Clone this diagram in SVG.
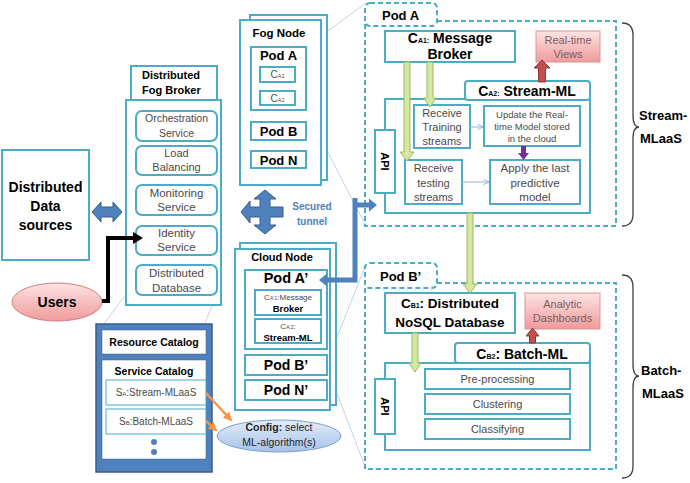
<svg xmlns="http://www.w3.org/2000/svg" width="690" height="483" viewBox="0 0 690 483">
<defs>
<style>
text{font-family:"Liberation Sans",Arial,sans-serif;}
.box{fill:#fff;stroke:#4bacc6;stroke-width:2}
.rbox{fill:#fff;stroke:#4bacc6;stroke-width:2}
.dash{stroke:#4bacc6;stroke-width:2;stroke-dasharray:5 3}
.b{font-weight:bold;fill:#000}
.g{fill:#4a4a4a}
.m{text-anchor:middle}
.faint{stroke:#c0d3ea;stroke-width:1;fill:none}
.green{fill:#d4e8a6;stroke:#9bbb59;stroke-width:1}
.red{fill:#c0504d;stroke:#943634;stroke-width:1}
.brace{fill:none;stroke:#404040;stroke-width:1.3}
</style>
<linearGradient id="pink" x1="0" y1="0" x2="0" y2="1">
<stop offset="0" stop-color="#fde4e4"/><stop offset="1" stop-color="#f09a9a"/>
</linearGradient>
<linearGradient id="lblue" x1="0" y1="0" x2="0" y2="1">
<stop offset="0" stop-color="#e3ecf7"/><stop offset="1" stop-color="#a7c2ea"/>
</linearGradient>
<marker id="thin" viewBox="0 0 10 10" refX="9" refY="5" markerWidth="7" markerHeight="7" orient="auto" markerUnits="userSpaceOnUse">
<path d="M1 1 L9 5 L1 9" fill="none" stroke="#8db3e2" stroke-width="1.3"/>
</marker>
<marker id="orange" viewBox="0 0 10 10" refX="8" refY="5" markerWidth="9" markerHeight="9" orient="auto" markerUnits="userSpaceOnUse">
<path d="M0 0 L10 5 L0 10 Z" fill="#f79646"/>
</marker>
</defs>
<rect width="690" height="483" fill="#fff"/>

<g id="faint-lines">
<line class="faint" x1="306" y1="47" x2="366" y2="3"/>
<line class="faint" x1="306" y1="110" x2="366" y2="226"/>
<line class="faint" x1="330" y1="355" x2="366" y2="264"/>
<line class="faint" x1="330" y1="375" x2="366" y2="469"/>
<line class="faint" x1="135" y1="282" x2="103" y2="325"/>
<line class="faint" x1="218" y1="292" x2="204" y2="325"/>
</g>

<g id="data-sources">
<rect class="box" x="2" y="150" width="87" height="110"/>
<text class="b m" x="45.5" y="192" font-size="14">Distributed</text>
<text class="b m" x="45.5" y="211" font-size="14">Data</text>
<text class="b m" x="45.5" y="230" font-size="14">sources</text>
</g>

<g id="fog-broker">
<rect class="box" x="131" y="66" width="86" height="34"/>
<text class="b" x="142" y="79" font-size="11">Distributed</text>
<text class="b" x="142" y="94" font-size="11">Fog Broker</text>
<rect class="box" x="126" y="100" width="95" height="205"/>
<rect class="rbox" x="136" y="111" width="81" height="30" rx="6"/>
<text class="g m" x="176.5" y="122" font-size="10.5">Orchestration</text>
<text class="g m" x="176.5" y="137" font-size="10.5">Service</text>
<rect class="rbox" x="136" y="146" width="81" height="29" rx="6"/>
<text class="g m" x="176.5" y="157" font-size="11">Load</text>
<text class="g m" x="176.5" y="171" font-size="11">Balancing</text>
<rect class="rbox" x="136" y="185" width="81" height="30" rx="6"/>
<text class="g m" x="176.5" y="197" font-size="11.5">Monitoring</text>
<text class="g m" x="176.5" y="211" font-size="11.5">Service</text>
<rect class="rbox" x="136" y="226" width="81" height="29" rx="6"/>
<text class="g m" x="176.5" y="237" font-size="11.5">Identity</text>
<text class="g m" x="176.5" y="251" font-size="11.5">Service</text>
<rect class="rbox" x="136" y="265" width="81" height="30" rx="6"/>
<text class="g m" x="176.5" y="277" font-size="11.5">Distributed</text>
<text class="g m" x="176.5" y="292" font-size="11.5">Database</text>
</g>

<g id="users">
<ellipse cx="57" cy="302" rx="45" ry="19" fill="url(#pink)" stroke="#d77b7b" stroke-width="1"/>
<text class="b m" x="57" y="307" font-size="14">Users</text>
</g>

<g id="resource-catalog">
<rect x="96" y="324" width="116" height="148" fill="#4f81bd" stroke="#385d8a" stroke-width="1.5"/>
<rect x="102" y="330" width="104" height="24" fill="#fff" stroke="#385d8a" stroke-width="0.5"/>
<text class="b m" x="154" y="346" font-size="10.5">Resource Catalog</text>
<rect x="102" y="360" width="104" height="99" fill="#fff" stroke="#385d8a" stroke-width="0.5"/>
<text class="b m" x="154" y="375" font-size="10.5">Service Catalog</text>
<rect x="106" y="380" width="100" height="25" fill="#fff" stroke="#4bacc6" stroke-width="1"/>
<text class="g m" x="156" y="396" font-size="10">S<tspan font-size="6">A</tspan>:Stream-MLaaS</text>
<rect x="106" y="409" width="100" height="25" fill="#fff" stroke="#4bacc6" stroke-width="1"/>
<text class="g m" x="156" y="425" font-size="10">S<tspan font-size="6">B</tspan>:Batch-MLaaS</text>
<circle cx="154" cy="442" r="3" fill="#4f81bd"/>
<circle cx="154" cy="452" r="3" fill="#4f81bd"/>
</g>

<g id="config">
<ellipse cx="279" cy="436" rx="62" ry="16" fill="url(#lblue)" stroke="#7a9fd4" stroke-width="1"/>
<text class="m" x="279" y="431" font-size="10.5" fill="#262626"><tspan font-weight="bold">Config:</tspan> select</text>
<text class="m" x="279" y="446" font-size="10.5" fill="#262626">ML-algorithm(s)</text>
</g>

<g id="fog-node">
<rect class="box" x="250" y="15" width="77" height="165"/>
<rect class="box" x="240" y="20" width="81" height="165"/>
<text class="b m" x="279" y="37" font-size="11.5">Fog Node</text>
<rect class="box" x="251" y="47" width="55" height="63"/>
<text class="b m" x="278.5" y="60" font-size="13">Pod A</text>
<rect class="box" x="260" y="67" width="35" height="15"/>
<text class="g m" x="277.5" y="78" font-size="10">C<tspan font-size="5.5">A1</tspan></text>
<rect class="box" x="260" y="91" width="35" height="14"/>
<text class="g m" x="277.5" y="102" font-size="10">C<tspan font-size="5.5">A2</tspan></text>
<rect class="box" x="251" y="122" width="55" height="18"/>
<text class="b m" x="278.5" y="136" font-size="13">Pod B</text>
<rect class="box" x="251" y="151" width="55" height="17"/>
<text class="b m" x="278.5" y="165" font-size="13">Pod N</text>
</g>

<g id="secured-tunnel">
<polygon points="265,190 276,199 270,199 270,207 283,207 283,217 270,217 270,225 276,225 265,234 254,225 260,225 260,217 250,217 250,223 241,212 250,201 250,207 260,207 260,199 254,199" fill="#4f81bd" stroke="#385d8a" stroke-width="1"/>
<text class="m" x="312" y="210" font-size="10" font-weight="bold" fill="#4f81bd">Secured</text>
<text class="m" x="312" y="225" font-size="10" font-weight="bold" fill="#4f81bd">tunnel</text>
</g>

<g id="cloud-node">
<rect class="box" x="240" y="243" width="96" height="162"/>
<rect class="box" x="235" y="249" width="95" height="161"/>
<text class="b m" x="282" y="261" font-size="11">Cloud Node</text>
<rect class="box" x="245" y="270" width="82" height="79"/>
<text class="b m" x="286" y="283" font-size="14.5">Pod A’</text>
<rect class="box" x="255" y="290" width="66" height="25"/>
<text class="g m" x="288" y="300" font-size="8">C<tspan font-size="5.5">A’1</tspan>:Message</text>
<text class="b m" x="288" y="312" font-size="9.5">Broker</text>
<rect class="box" x="255" y="319" width="66" height="24"/>
<text class="g m" x="288" y="329" font-size="8">C<tspan font-size="5.5">A’2</tspan>:</text>
<text class="b m" x="288" y="341" font-size="9.5">Stream-ML</text>
<rect class="box" x="245" y="355" width="82" height="20"/>
<text class="b m" x="286" y="370" font-size="14">Pod B’</text>
<rect class="box" x="245" y="380" width="82" height="20"/>
<text class="b m" x="286" y="395" font-size="14">Pod N’</text>
</g>

<g id="pod-a">
<rect class="dash" x="365" y="21" width="251" height="205" fill="none"/>
<rect class="dash" x="365" y="3" width="72" height="23" rx="5" fill="#fff"/>
<text class="b" x="382" y="20" font-size="13">Pod A</text>
<rect class="box" x="385" y="31" width="130" height="31"/>
<text class="b m" x="450" y="43" font-size="14">C<tspan font-size="7">A1:</tspan> Message</text>
<text class="b m" x="450" y="59" font-size="14">Broker</text>
<rect x="536" y="31" width="64" height="31" fill="url(#pink)" stroke="#d99594" stroke-width="1"/>
<text class="m" x="568" y="44" font-size="11" fill="#7a5e5e">Real-time</text>
<text class="m" x="568" y="58" font-size="11" fill="#7a5e5e">Views</text>
<rect class="box" x="385" y="99" width="205" height="114"/>
<rect class="box" x="465" y="81" width="125" height="19" rx="3"/>
<text class="b m" x="527" y="96" font-size="14">C<tspan font-size="7">A2:</tspan> Stream-ML</text>
<rect class="box" x="375" y="130" width="20" height="63"/>
<text class="b m" transform="translate(381,161.5) rotate(90)" font-size="11">API</text>
<rect class="box" x="414" y="105" width="56" height="43"/>
<text class="g m" x="442" y="117" font-size="11">Receive</text>
<text class="g m" x="442" y="131" font-size="11">Training</text>
<text class="g m" x="442" y="145" font-size="11">streams</text>
<rect class="box" x="484" y="106" width="96" height="40"/>
<text class="g m" x="532" y="118" font-size="9.5">Update the Real-</text>
<text class="g m" x="532" y="130" font-size="9.5">time Model stored</text>
<text class="g m" x="532" y="142" font-size="9.5">in the cloud</text>
<rect class="box" x="405" y="160" width="57" height="44"/>
<text class="g m" x="433.5" y="172" font-size="11">Receive</text>
<text class="g m" x="433.5" y="187" font-size="11">testing</text>
<text class="g m" x="433.5" y="201" font-size="11">streams</text>
<rect class="box" x="490" y="160" width="90" height="44"/>
<text class="g m" x="535" y="172" font-size="11.5">Apply the last</text>
<text class="g m" x="535" y="187" font-size="11.5">predictive</text>
<text class="g m" x="535" y="201" font-size="11.5">model</text>
</g>

<g id="pod-b">
<rect class="dash" x="365" y="283" width="251" height="186" fill="none"/>
<rect class="dash" x="365" y="263" width="72" height="25" rx="5" fill="#fff"/>
<text class="b" x="380" y="281" font-size="13">Pod B’</text>
<rect class="box" x="385" y="293" width="130" height="40"/>
<text class="b m" x="450" y="308" font-size="13.5">C<tspan font-size="7">B1</tspan>: Distributed</text>
<text class="b m" x="450" y="327" font-size="13.5">NoSQL Database</text>
<rect x="525" y="293" width="75" height="36" fill="url(#pink)" stroke="#d99594" stroke-width="1"/>
<text class="m" x="562.5" y="308" font-size="11" fill="#7a5e5e">Analytic</text>
<text class="m" x="562.5" y="322" font-size="11" fill="#7a5e5e">Dashboards</text>
<rect class="box" x="385" y="363" width="205" height="87"/>
<rect class="box" x="455" y="343" width="135" height="20" rx="3"/>
<text class="b m" x="522" y="359" font-size="14">C<tspan font-size="7">B2</tspan>: Batch-ML</text>
<rect class="box" x="375" y="379" width="20" height="55"/>
<text class="b m" transform="translate(381,406.5) rotate(90)" font-size="11">API</text>
<rect class="box" x="425" y="369" width="145" height="20"/>
<text class="g m" x="497.5" y="383" font-size="11">Pre-processing</text>
<rect class="box" x="425" y="394" width="145" height="20"/>
<text class="g m" x="497.5" y="408" font-size="11">Clustering</text>
<rect class="box" x="425" y="419" width="145" height="20"/>
<text class="g m" x="497.5" y="433" font-size="11">Classifying</text>
</g>

<g id="braces">
<path class="brace" d="M622 23 Q633 23 633 35 V115 Q633 127 639 127 Q633 127 633 139 V214 Q633 226 622 226"/>
<text class="b" x="639" y="120" font-size="13">Stream-</text>
<text class="b" x="640" y="143" font-size="13">MLaaS</text>
<path class="brace" d="M622 275 Q633 275 633 287 V364 Q633 376 639 376 Q633 376 633 388 V466 Q633 478 622 478"/>
<text class="b" x="641" y="375" font-size="13">Batch-</text>
<text class="b" x="642" y="398" font-size="13">MLaaS</text>
</g>

<g id="connectors">
<polygon points="92,212 101,202 101,207 113,207 113,202 122,212 113,222 113,217 101,217 101,222" fill="#4f81bd" stroke="#385d8a" stroke-width="1"/>
<path d="M102 301 H108 V238 H134" fill="none" stroke="#000" stroke-width="4" stroke-linejoin="miter"/>
<polygon points="133,232 143,238 133,244" fill="#000"/>
<line x1="206" y1="393" x2="231" y2="420" stroke="#f79646" stroke-width="2.5" marker-end="url(#orange)"/>
<line x1="206" y1="421" x2="216" y2="430" stroke="#f79646" stroke-width="2.5" marker-end="url(#orange)"/>
<path d="M355 198 V280 H326 M355 205 H369" fill="none" stroke="#4f81bd" stroke-width="5"/>
<polygon points="369,198.5 377,205 369,211.5" fill="#4f81bd"/>
<polygon points="327,273.5 319,280 327,286.5" fill="#4f81bd"/>
<polygon class="green" points="404,62 410,62 410,152 414,152 407,161 400,152 404,152"/>
<polygon class="green" points="427,62 433,62 433,98 436,98 430,107 424,98 427,98"/>
<polygon class="green" points="467,213 473,213 473,284 477,284 470,293 463,284 467,284"/>
<polygon class="green" points="412,333 418,333 418,363 421,363 415,372 409,363 412,363"/>
<polygon class="red" points="538.5,82 545.5,82 545.5,68 550,68 542,60 534,68 538.5,68"/>
<polygon class="red" points="529.5,343 535.5,343 535.5,336 539,336 532.5,328 526,336 529.5,336"/>
<polygon points="521,146 526,146 526,153 529,153 523.5,160 518,153 521,153" fill="#7030a0"/>
<line x1="470" y1="127" x2="483" y2="127" stroke="#8db3e2" stroke-width="1" marker-end="url(#thin)"/>
<line x1="462" y1="182" x2="489" y2="182" stroke="#8db3e2" stroke-width="1" marker-end="url(#thin)"/>
</g>
</svg>
